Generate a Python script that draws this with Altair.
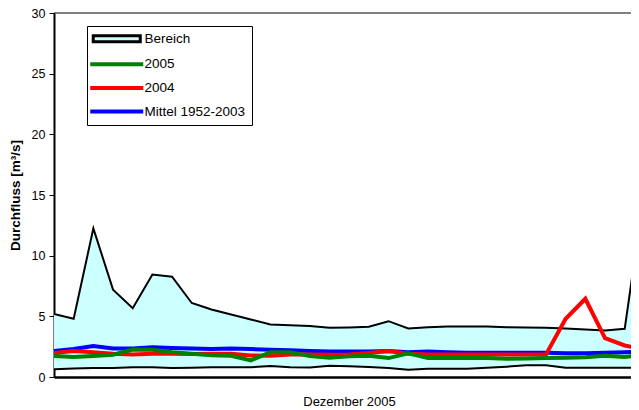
import altair as alt
import pandas as pd

days = list(range(1, 32))
max_vals = [5.2, 4.8, 12.25, 7.2, 5.67, 8.44, 8.27, 6.1, 5.56, 5.15, 4.74, 4.33, 4.27, 4.2, 4.05, 4.08,
            4.14, 4.6, 4.0, 4.1, 4.16, 4.16, 4.16, 4.1, 4.08, 4.05, 4.0, 3.92, 3.84, 3.97, 15.3]
min_vals = [0.63, 0.71, 0.74, 0.74, 0.8, 0.8, 0.74, 0.77, 0.8, 0.8, 0.8, 0.9, 0.8, 0.78, 0.93, 0.88,
            0.82, 0.74, 0.6, 0.68, 0.68, 0.68, 0.77, 0.85, 0.96, 0.96, 0.77, 0.77, 0.77, 0.77, 0.77]
mittel = [2.15, 2.3, 2.55, 2.35, 2.35, 2.45, 2.4, 2.35, 2.3, 2.35, 2.3, 2.25, 2.2, 2.15, 2.1, 2.1,
          2.1, 2.15, 2.05, 2.1, 2.05, 2.0, 2.0, 2.0, 2.0, 2.0, 1.95, 1.95, 2.0, 2.05, 2.1]
y2004 = [1.97, 2.14, 2.03, 1.92, 1.86, 1.92, 1.92, 1.9, 1.92, 1.92, 1.78, 1.75, 1.86, 1.85, 1.83, 1.86,
         1.97, 2.14, 1.92, 1.86, 1.86, 1.86, 1.86, 1.86, 1.86, 1.86, 4.8, 6.45, 3.2, 2.6, 2.27]
y2005 = [1.73, 1.64, 1.73, 1.84, 2.27, 2.25, 2.05, 1.92, 1.8, 1.75, 1.37, 2.05, 2.05, 1.72, 1.59, 1.7,
         1.75, 1.56, 1.95, 1.56, 1.56, 1.56, 1.56, 1.5, 1.52, 1.56, 1.59, 1.62, 1.75, 1.64, 1.84]

legend_names = ["Bereich", "2005", "2004", "Mittel 1952-2003"]
legend_fills = ["#CCFFFF", "#008000", "#FF0000", "#0000FF"]
legend_strokes = ["#000000", "#008000", "#FF0000", "#0000FF"]
legend_paths = ["M-4.7,-0.6H4.7V0.6H-4.7Z", "M-5,-0.1H5V0.1H-5Z", "M-5,-0.1H5V0.1H-5Z", "M-5,-0.1H5V0.1H-5Z"]
y_ticks = [0, 5, 10, 15, 20, 25, 30]

df = pd.DataFrame({"day": days, "max": max_vals, "min": min_vals, "mittel": mittel,
                   "y2004": y2004, "y2005": y2005})
leg_df = pd.DataFrame({"series": legend_names, "day": [1] * 4, "v": [-50] * 4})
top_df = pd.DataFrame({"top": [30]})

FONT = "Liberation Sans"
xs = alt.Scale(domain=[1, 30.32], nice=False, zero=False)
ys = alt.Scale(domain=[0, 30], nice=False)

xenc = alt.X("day:Q", scale=xs,
             axis=alt.Axis(title="Dezember 2005", labels=False, ticks=False, grid=False,
                           domainColor="black", domainWidth=2.5, titleFont=FONT, titleFontSize=13,
                           titleFontWeight="normal", titleColor="black", titlePadding=18,
                           titleX=295))
yaxis = alt.Axis(title="Durchfluss [m³/s]", values=y_ticks, grid=False, domainColor="black",
                 domainWidth=2, tickColor="black", tickSize=5, tickWidth=1, labelColor="black",
                 labelFont=FONT, labelFontSize=12.5, labelPadding=4, titleFont=FONT,
                 titleFontSize=13.5, titleFontWeight="bold", titleColor="black", titlePadding=9)

base = alt.Chart(df)
area = base.mark_area(color="#CCFFFF", opacity=1, clip=True).encode(
    x=xenc, y=alt.Y("min:Q", scale=ys, axis=yaxis), y2="max:Q")
min_line = base.mark_line(color="black", strokeWidth=2, clip=True).encode(x="day:Q", y="min:Q")
max_line = base.mark_line(color="black", strokeWidth=2, clip=True).encode(x="day:Q", y="max:Q")
blue = base.mark_line(color="#0000FF", strokeWidth=4, clip=True).encode(x="day:Q", y="mittel:Q")
red = base.mark_line(color="#FF0000", strokeWidth=4, clip=True).encode(x="day:Q", y="y2004:Q")
green = base.mark_line(color="#008000", strokeWidth=4, clip=True).encode(x="day:Q", y="y2005:Q")
top = alt.Chart(top_df).mark_rule(color="black", strokeWidth=1).encode(y="top:Q")

leg = alt.Chart(leg_df).mark_point(filled=True, opacity=1, strokeWidth=3, clip=True).encode(
    x="day:Q", y="v:Q",
    shape=alt.Shape("series:N", title=None, sort=legend_names,
                    scale=alt.Scale(domain=legend_names, range=legend_paths)),
    fill=alt.Fill("series:N", title=None, sort=legend_names,
                  scale=alt.Scale(domain=legend_names, range=legend_fills)),
    stroke=alt.Stroke("series:N", title=None, sort=legend_names,
                      scale=alt.Scale(domain=legend_names, range=legend_strokes)),
)

chart = alt.layer(area, min_line, max_line, blue, red, green, top, leg).properties(
    width=577, height=364,
    autosize=alt.AutoSizeParams(type="none"),
    padding={"left": 46, "top": 5, "right": 0, "bottom": 32},
).configure_view(stroke=None).configure_legend(
    orient="none", legendX=33, legendY=13, padding=6, strokeColor="black", fillColor="white",
    symbolSize=100, symbolStrokeWidth=3, symbolOffset=17, labelOffset=21, labelFont=FONT,
    labelFontSize=13.5, labelColor="black", rowPadding=8.6, labelLimit=0, cornerRadius=0,
)

chart.save("out.html", embed_options={"renderer": "svg", "actions": False})
